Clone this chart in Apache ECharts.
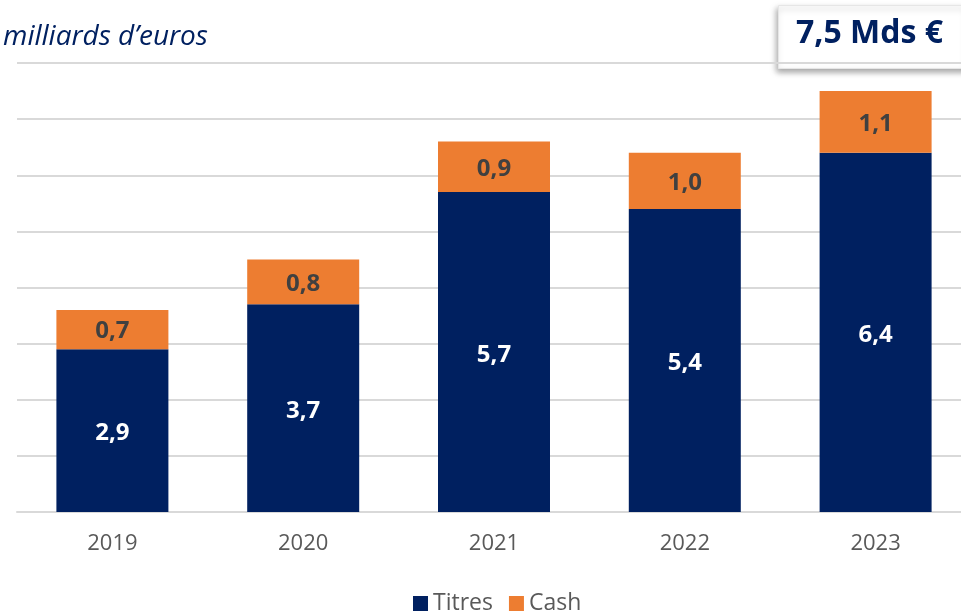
<!DOCTYPE html>
<html lang="fr">
<head>
<meta charset="UTF-8">
<title>Titres et Cash</title>
<script src="https://cdn.jsdelivr.net/npm/echarts@6/dist/echarts.min.js"></script>
<style>
  html, body { margin: 0; padding: 0; background: #fff; }
  #main { width: 961px; height: 613px; }
</style>
</head>
<body>
<div id="main"></div>
<script type="text/javascript">
    var years = ['2019', '2020', '2021', '2022', '2023'];
    var titres = [2.9, 3.7, 5.7, 5.4, 6.4];
    var cash = [0.7, 0.8, 0.9, 1.0, 1.1];
    var totalLabel = '7,5 Mds €';

    function frNum(p) {
        return p.value.toFixed(1).replace('.', ',');
    }

    var myChart = echarts.init(document.getElementById('main'));

    var option = {
        animation: false,
        textStyle: { fontFamily: 'Open Sans' },
        title: {
            text: 'milliards d\u2019euros',
            left: -2,
            top: 18,
            textStyle: {
                color: '#002060',
                fontStyle: 'italic',
                fontWeight: 'normal',
                fontSize: 28,
                fontFamily: 'Open Sans'
            }
        },
        graphic: [{
            type: 'rect',
            left: 778,
            top: 5,
            shape: { width: 190, height: 63 },
            style: {
                fill: '#fff',
                stroke: '#e6e6e6',
                lineWidth: 1,
                shadowBlur: 6,
                shadowOffsetX: -2,
                shadowOffsetY: 3,
                shadowColor: 'rgba(0,0,0,0.35)'
            }
        }, {
            type: 'text',
            left: 796,
            top: 18,
            style: {
                text: totalLabel,
                fill: '#002060',
                font: 'bold 32px "Open Sans"'
            }
        }],
        legend: {
            top: 587,
            left: 408,
            itemWidth: 15,
            itemHeight: 15,
            itemGap: 16,
            icon: 'rect',
            textStyle: { color: '#595959', fontSize: 23 },
            data: ['Titres', 'Cash']
        },
        grid: {
            left: 17,
            width: 954,
            top: 63,
            bottom: 101,
            outerBoundsMode: 'none',
            containLabel: false
        },
        xAxis: {
            type: 'category',
            data: years,
            axisLine: { lineStyle: { color: '#d9d9d9', width: 2 } },
            axisTick: { show: false },
            axisLabel: { color: '#595959', fontSize: 22, margin: 21 }
        },
        yAxis: {
            type: 'value',
            min: 0,
            max: 8,
            interval: 1,
            axisLabel: { show: false },
            axisLine: { show: false },
            axisTick: { show: false },
            splitLine: { lineStyle: { color: '#d9d9d9', width: 2 } }
        },
        series: [{
            name: 'Titres',
            type: 'bar',
            stack: 'total',
            barWidth: '58.7%',
            itemStyle: { color: '#002060' },
            label: {
                show: true,
                position: 'inside',
                offset: [0, 3],
                color: '#fff',
                fontWeight: 'bold',
                fontSize: 24,
                formatter: frNum
            },
            data: titres
        }, {
            name: 'Cash',
            type: 'bar',
            stack: 'total',
            barWidth: '58.7%',
            itemStyle: { color: '#ED7D31' },
            label: {
                show: true,
                position: 'inside',
                offset: [0, 2],
                color: '#404040',
                fontWeight: 'bold',
                fontSize: 24,
                formatter: frNum
            },
            data: cash
        }]
    };

    myChart.setOption(option);
</script>
</body>
</html>
